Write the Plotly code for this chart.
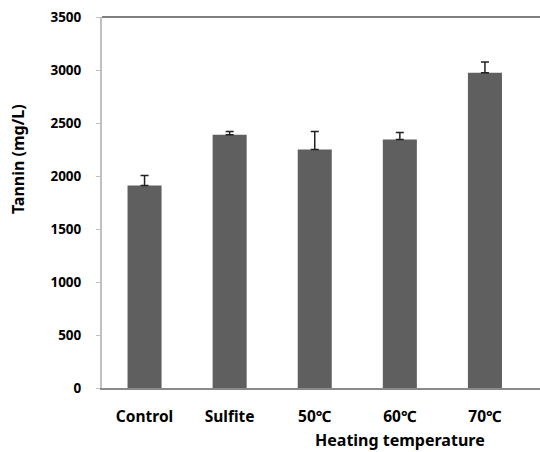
import plotly.graph_objects as go

categories = ["Control", "Sulfite", "50℃", "60℃", "70℃"]
tannin = [1910, 2390, 2250, 2345, 2975]
tannin_err = [95, 30, 170, 65, 100]
y_ticks = [0, 500, 1000, 1500, 2000, 2500, 3000, 3500]

font_family = "Noto Sans, DejaVu Sans, sans-serif"

fig = go.Figure()
fig.add_trace(go.Bar(
    x=list(range(len(categories))),
    y=tannin,
    width=0.4,
    marker=dict(color="#5f5f5f", line=dict(width=0)),
    error_y=dict(type="data", array=tannin_err, arrayminus=[0] * len(tannin),
                 symmetric=False, color="#222222", thickness=1.5, width=4),
))

fig.update_layout(
    width=540, height=452,
    margin=dict(l=102, r=0, t=17, b=64),
    plot_bgcolor="white", paper_bgcolor="white",
    showlegend=False,
    font=dict(family=font_family, color="black"),
    xaxis=dict(
        range=[-0.5, 4.647],
        tickmode="array",
        tickvals=list(range(len(categories))),
        ticktext=["<b>%s</b>" % c for c in categories],
        tickfont=dict(size=15.5),
        showline=True, linecolor="#8a8a8a", linewidth=1.5,
        ticks="", showgrid=False, zeroline=False,
        ticklabelstandoff=14,
    ),
    yaxis=dict(
        range=[0, 3500],
        tickmode="array",
        tickvals=y_ticks,
        ticktext=["<b>%d</b>" % v for v in y_ticks],
        tickfont=dict(size=13.5),
        showline=True, linecolor="#c0c0c0", linewidth=2,
        ticks="outside", ticklen=4, tickcolor="#c0c0c0",
        showgrid=False, zeroline=False,
        ticklabelstandoff=12,
    ),
    shapes=[dict(type="line", xref="paper", yref="paper", x0=0, x1=1, y0=1, y1=1,
                 line=dict(color="#555555", width=1.5))],
    annotations=[
        dict(text="<b>Heating temperature</b>", xref="x", yref="paper",
             x=3.0, y=0, yshift=-52, xanchor="center", yanchor="middle",
             showarrow=False, font=dict(size=16)),
        dict(text="<b>Tannin (mg/L)</b>", xref="paper", yref="paper",
             x=0, y=0.617, xshift=-84, xanchor="center", yanchor="middle",
             textangle=-90, showarrow=False, font=dict(size=16)),
    ],
)

fig.write_html("out.html")
